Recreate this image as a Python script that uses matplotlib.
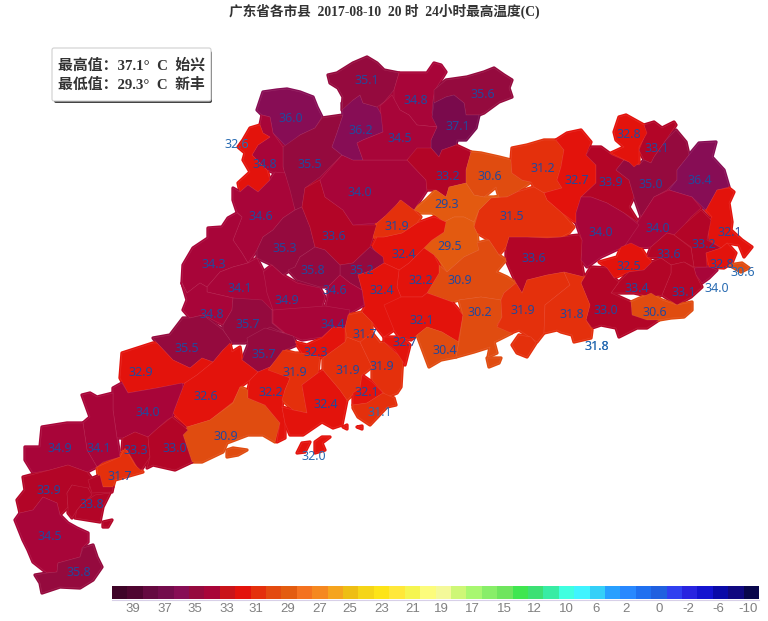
import matplotlib
matplotlib.use("Agg")
import matplotlib.pyplot as plt
from matplotlib.patches import Polygon, FancyBboxPatch

# ---------- data ----------
title_text = "广东省各市县  2017-08-10  20 时  24小时最高温度(C)"
box_lines = ["最高值：37.1°  C  始兴", "最低值：29.3°  C  新丰"]

legend_colors = ["#3f0428", "#4f0530", "#650a40", "#730c4c", "#870d55", "#950a3e", "#a80539",
                 "#c9141a", "#e3130c", "#e4300c", "#e34a10", "#e35c10", "#f47220", "#f58820",
                 "#f5a41e", "#eebe14", "#f5d518", "#fde418", "#ffe83a", "#f5f550", "#fcfc7c",
                 "#f4f99a", "#cef776", "#a8f770", "#88ee68", "#6fe55e", "#40e650", "#3de074",
                 "#38eca4", "#40ffe0", "#40f4ff", "#34d0f8", "#28a0ff", "#2888ff", "#2070f0",
                 "#2060e0", "#3040f0", "#2824e0", "#1414d0", "#0a0aa8", "#100880", "#08064c"]
legend_labels = ["39", "37", "35", "33", "31", "29", "27", "25", "23", "21", "19",
                 "17", "15", "12", "10", "6", "2", "0", "-2", "-6", "-10"]
legend_label_x = [133, 165, 195, 227, 256, 288, 320, 350, 382, 413, 441,
                  472, 504, 534, 566, 596, 626, 659, 688, 718, 748]

degree_colors = {29: "#e35a10", 30: "#e04c10", 31: "#e4300c", 32: "#e3130c", 33: "#b30527",
                 34: "#a80539", 35: "#950a3e", 36: "#870d55", 37: "#7a0a4c"}

county_values = [
    36.0, 35.5, 34.8, 32.6, 34.6, 34.3, 35.3, 33.6, 34.0, 36.2, 35.1, 34.8, 35.6, 37.1, 34.5,
    33.2, 30.6, 31.2, 32.7, 33.9, 33.1, 35.0, 32.8, 36.4, 32.1, 34.0, 34.0, 33.2, 33.6, 32.5,
    32.8, 30.6, 34.0, 33.1, 33.4, 33.0, 30.6, 33.6, 31.5, 29.3, 29.5, 30.9, 32.2, 32.4, 31.9,
    35.2, 32.4, 34.9, 35.8, 34.6, 34.4, 34.1, 34.8, 35.7, 35.7, 35.5, 32.9, 32.6, 30.9, 32.2,
    31.9, 32.3, 32.4, 31.9, 31.7, 31.9, 32.1, 31.1, 32.1, 30.4, 32.7, 30.2, 31.9, 31.8, 34.0,
    34.1, 34.9, 33.3, 33.0, 31.7, 33.9, 33.8, 34.5, 35.8, 32.0]

county_shapes = [
    [[(257,110),(263,92),(277,90),(287,89),(300,92),(313,97),(317,107),(322,117),(315,128),(300,135),(287,147),(273,133),(270,117),(262,115)]],
    [[(322,118),(343,115),(337,133),(332,147),(342,155),(320,177),(305,188),(302,207),(295,210),(288,190),(283,167),(283,147),(300,135),(315,128)]],
    [[(262,115),(270,117),(273,133),(283,147),(283,167),(288,185),(282,178),(272,172),(267,170),(252,155),(258,145),(270,137),(263,133),(260,125)]],
    [[(250,128),(260,125),(263,133),(270,137),(258,145),(252,155),(267,170),(270,180),(258,192),(248,185),(240,192),(238,183),(250,172),(243,160),(245,153),(238,147),(243,140)]],
    [[(233,188),(240,192),(248,185),(258,192),(270,180),(275,172),(285,173),(290,190),(295,210),(283,218),(273,230),(263,237),(257,250),(248,263),(242,253),(233,240),(242,217),(237,212),(233,200)]],
    [[(237,213),(242,217),(233,240),(242,253),(248,263),(233,267),(220,272),(207,287),(200,283),(187,293),(182,283),(183,265),(193,248),(208,238),(208,228),(222,227),(228,218)]],
    [[(283,218),(295,210),(302,207),(310,227),(315,247),(300,257),(295,267),(283,275),(272,265),(257,258),(257,250),(263,237),(273,230)]],
    [[(302,207),(305,188),(320,180),(325,197),(343,210),(353,225),(377,225),(370,247),(353,263),(340,265),(325,250),(315,247),(310,227)]],
    [[(342,155),(353,160),(384,160),(407,160),(426,180),(427,190),(414,210),(400,200),(391,213),(384,217),(377,223),(353,225),(343,210),(325,197),(320,180)]],
    [[(343,115),(342,103),(353,100),(360,95),(363,103),(377,107),(383,117),(383,132),(363,140),(357,143),(363,160),(353,160),(342,155),(332,147),(337,133)]],
    [[(328,75),(337,73),(353,63),(367,57),(377,63),(384,70),(399,73),(394,90),(384,102),(377,107),(363,103),(360,95),(353,100),(342,110),(343,97),(338,88),(330,83)]],
    [[(399,73),(427,73),(434,63),(441,65),(446,72),(435,90),(433,100),(432,113),(437,127),(417,125),(409,115),(400,110),(394,100),(394,90)]],
    [[(434,90),(446,80),(467,77),(484,72),(494,68),(504,75),(512,80),(509,88),(512,97),(499,102),(484,113),(479,115),(466,115),(464,103),(454,95),(446,97),(434,103)]],
    [[(434,103),(446,97),(454,95),(464,103),(466,115),(479,115),(476,128),(466,140),(457,140),(456,145),(442,150),(439,157),(431,148),(431,140),(437,127),(432,117)]],
    [[(380,106),(392,95),(400,110),(409,115),(417,125),(437,127),(431,140),(431,148),(418,150),(407,160),(384,160),(363,160),(357,143),(363,140),(383,132)]],
    [[(407,160),(417,148),(431,148),(439,157),(442,150),(456,145),(471,152),(466,170),(466,183),(449,187),(446,197),(436,190),(427,190),(426,180)]],
    [[(471,152),(481,153),(499,157),(511,160),(512,173),(522,180),(531,182),(517,192),(507,197),(499,197),(496,187),(484,197),(474,195),(466,183),(466,170)]],
    [[(511,160),(512,148),(527,145),(544,140),(556,140),(564,150),(561,167),(557,180),(562,188),(544,193),(534,187),(531,182),(522,180),(512,173)]],
    [[(556,140),(567,133),(581,130),(591,142),(586,155),(596,165),(596,183),(581,197),(576,213),(576,223),(562,213),(547,200),(544,193),(562,188),(557,180),(561,167),(564,150)]],
    [[(591,147),(601,147),(612,155),(624,160),(616,170),(629,180),(634,197),(629,207),(639,223),(624,213),(607,203),(591,197),(581,197),(596,183),(596,165),(586,155)]],
    [[(644,125),(654,122),(662,128),(674,122),(676,125),(666,140),(654,157),(651,163),(644,160),(639,150),(646,133)]],
    [[(616,170),(624,160),(629,162),(639,165),(644,160),(651,163),(654,157),(666,140),(676,130),(686,142),(689,155),(677,170),(677,180),(667,190),(654,197),(641,217),(634,197),(629,180)]],
    [[(614,132),(619,117),(626,115),(644,125),(647,133),(639,147),(639,163),(634,167),(629,162),(611,153),(624,147),(616,140)]],
    [[(677,170),(689,155),(699,143),(716,142),(712,157),(724,170),(729,187),(717,190),(706,210),(692,197),(669,190),(677,180)]],
    [[(717,190),(729,188),(734,192),(729,203),(732,222),(731,230),(742,240),(752,247),(744,257),(739,245),(727,243),(721,248),(709,240),(707,223),(712,217),(706,210)]],
    [[(641,217),(654,197),(669,190),(692,197),(701,208),(691,217),(686,223),(686,237),(667,233),(651,247),(637,248),(624,247),(637,223)]],
    [[(576,223),(576,213),(581,197),(591,197),(607,203),(624,213),(639,225),(624,247),(616,250),(601,257),(587,267),(581,260),(582,240)]],
    [[(686,223),(701,210),(711,220),(707,240),(721,248),(706,253),(707,267),(694,267),(691,247),(674,235)]],
    [[(651,247),(667,233),(674,235),(691,248),(694,267),(684,262),(671,265),(661,258),(647,257)]],
    [[(599,262),(617,257),(621,247),(631,243),(641,248),(647,257),(652,262),(644,270),(629,272),(614,278),(607,268)]],
    [[(706,253),(721,248),(727,243),(736,253),(732,263),(724,268),(709,267)]],
    [[(729,265),(742,263),(749,268),(741,272)]],
    [[(694,268),(709,267),(717,270),(709,278),(702,283),(696,275)]],
    [[(671,265),(684,262),(694,268),(696,275),(702,287),(691,297),(677,305),(662,295),(671,273)]],
    [[(644,270),(652,262),(661,258),(671,265),(671,273),(662,295),(651,297),(634,293),(611,293),(619,282),(629,272)]],
    [[(591,267),(607,268),(614,278),(619,282),(611,293),(631,302),(633,313),(647,319),(659,320),(647,328),(637,328),(619,337),(616,328),(601,325),(592,328),(586,320),(590,305),(581,283)]],
    [[(631,302),(651,293),(662,300),(677,305),(692,302),(692,310),(684,317),(671,318),(659,320),(647,320),(632,315)]],
    [[(509,237),(527,237),(547,238),(561,237),(579,235),(582,240),(581,260),(584,277),(564,272),(547,275),(527,280),(522,293),(516,283),(506,260),(506,247)]],
    [[(474,227),(479,210),(491,198),(507,197),(517,192),(534,187),(544,193),(547,200),(562,213),(574,227),(569,233),(561,237),(527,237),(509,237),(506,247),(499,255),(489,240),(477,233)]],
    [[(414,210),(426,200),(436,190),(446,197),(449,187),(466,183),(474,195),(484,197),(499,197),(491,198),(479,210),(474,222),(464,217),(454,217),(444,222),(432,213),(421,213)]],
    [[(444,222),(454,217),(464,217),(474,222),(474,227),(477,233),(479,250),(464,257),(447,272),(441,263),(434,255),(422,247),(432,240),(444,232)]],
    [[(447,272),(464,257),(479,250),(477,243),(489,240),(499,255),(506,260),(496,272),(507,277),(516,283),(504,293),(501,300),(481,297),(459,300),(452,302),(427,293),(439,273),(439,265)]],
    [[(399,270),(409,263),(424,248),(434,255),(439,265),(439,273),(427,293),(422,297),(401,297),(397,287)]],
    [[(377,237),(384,237),(402,233),(417,223),(434,217),(446,222),(444,232),(432,240),(424,248),(409,263),(399,270),(384,263),(372,247)]],
    [[(384,217),(401,200),(414,210),(421,217),(417,223),(402,233),(384,237),(373,237),(377,223)]],
    [[(340,265),(353,263),(370,247),(383,257),(384,263),(373,270),(358,275),(362,290),(350,283),(340,275)]],
    [[(358,275),(373,270),(384,263),(399,270),(397,287),(401,297),(394,330),(384,337),(372,322),(362,312),(365,307),(362,290)]],
    [[(263,272),(272,265),(283,275),(297,283),(320,288),(325,297),(320,312),(300,327),(283,333),(272,323),(272,310),(258,305),(262,290)]],
    [[(300,257),(315,247),(325,250),(340,265),(340,275),(328,287),(320,287),(297,280),(288,270),(295,267)]],
    [[(328,287),(340,275),(350,283),(362,290),(364,305),(350,313),(325,310),(328,297)]],
    [[(273,310),(325,306),(350,310),(348,317),(345,328),(333,327),(322,337),(302,340),(285,333),(273,323)]],
    [[(207,287),(220,272),(233,267),(248,263),(257,258),(263,270),(265,280),(267,293),(273,310),(233,298),(207,292)]],
    [[(182,283),(187,293),(200,283),(207,287),(207,292),(233,298),(232,310),(223,325),(203,315),(190,318),(183,310),(187,300)]],
    [[(233,298),(262,300),(272,310),(272,323),(284,333),(270,327),(250,340),(245,343),(232,343),(223,330),(223,325),(232,310)]],
    [[(247,338),(265,328),(283,333),(293,336),(297,345),(285,350),(270,367),(258,372),(242,360),(248,345)]],
    [[(153,338),(170,335),(183,318),(190,318),(203,315),(223,330),(232,343),(223,350),(213,362),(202,358),(190,368),(173,360),(157,343)]],
    [[(122,353),(153,343),(157,343),(173,360),(190,368),(202,358),(213,362),(197,375),(185,383),(157,388),(128,393),(120,378)]],
    [[(213,362),(223,350),(230,343),(232,352),(240,347),(242,360),(258,372),(250,380),(240,387),(233,402),(210,420),(187,427),(173,413),(183,387),(185,383),(197,375)]],
    [[(187,427),(210,420),(233,403),(240,387),(248,390),(248,398),(265,405),(280,423),(275,442),(263,435),(248,435),(227,443),(223,452),(202,462),(192,462),(183,435)],
     [(227,450),(233,448),(247,450),(238,455),(227,457)]],
    [[(250,380),(258,372),(270,367),(290,378),(285,390),(283,400),(282,407),(285,423),(285,438),(277,442),(280,423),(265,405),(248,398),(248,390)]],
    [[(268,370),(283,350),(295,353),(320,353),(318,373),(302,385),(307,413),(293,410),(282,400),(285,390),(290,378)]],
    [[(295,342),(307,345),(322,338),(333,327),(345,328),(345,342),(323,358),(302,353)]],
    [[(302,385),(318,373),(323,370),(340,390),(347,400),(342,425),(333,428),(322,422),(303,435),(290,435),(285,423),(282,407),(293,410),(307,413)]],
    [[(323,358),(345,342),(347,337),(360,342),(372,367),(362,375),(360,388),(347,400),(340,390),(323,370)]],
    [[(345,328),(348,315),(362,312),(372,322),(372,333),(380,343),(360,342),(347,337)]],
    [[(372,333),(380,343),(384,342),(396,353),(403,358),(402,370),(401,387),(397,393),(387,397),(372,380),(372,367),(360,342)]],
    [[(360,388),(362,375),(372,382),(383,393),(367,403),(353,405),(353,393)]],
    [[(353,405),(367,403),(383,393),(394,398),(396,405),(387,407),(370,425),(358,417),(353,408)]],
    [[(384,305),(401,297),(422,297),(427,293),(452,302),(463,315),(458,342),(442,332),(427,327),(417,335),(411,340),(399,337),(394,330)]],
    [[(417,335),(427,327),(442,332),(459,342),(456,357),(441,360),(429,367)]],
    [[(384,337),(402,337),(410,345),(405,365),(395,350),(384,342)]],
    [[(459,300),(481,297),(501,300),(502,317),(497,325),(512,333),(494,342),(497,353),(488,357),(490,347),(474,352),(456,357),(459,342),(463,315)],
     [(487,358),(501,358),(499,363),(489,367)]],
    [[(504,293),(516,283),(522,293),(527,280),(547,275),(564,272),(570,285),(555,297),(545,305),(544,333),(537,342),(519,330),(511,333),(497,327),(502,317),(501,300)],
     [(512,345),(519,335),(531,337),(536,343),(527,357),(517,353)]],
    [[(564,272),(584,277),(581,283),(590,305),(586,320),(592,330),(591,338),(574,342),(572,335),(561,332),(557,330),(544,333),(545,305),(555,297),(570,285)]],
    [[(113,388),(122,383),(128,393),(157,388),(182,383),(183,387),(175,408),(172,417),(167,420),(158,428),(148,437),(135,432),(123,438),(117,438),(113,410)]],
    [[(82,395),(90,393),(97,397),(113,393),(113,410),(117,438),(120,457),(103,462),(97,467),(87,450),(83,423),(90,417)]],
    [[(42,427),(67,423),(83,423),(87,450),(97,467),(87,472),(68,465),(50,470),(33,473),(25,460),(25,447),(40,447)]],
    [[(123,438),(135,432),(148,437),(150,457),(140,472),(127,450),(122,450)]],
    [[(148,437),(158,428),(172,417),(188,430),(183,435),(192,462),(175,470),(153,465),(147,468),(150,457)]],
    [[(97,467),(120,457),(125,448),(135,465),(143,472),(115,480),(113,487),(103,487),(98,475)]],
    [[(23,477),(50,470),(68,465),(87,472),(93,480),(88,490),(72,485),(67,493),(68,507),(60,515),(57,503),(43,497),(33,510),(20,513),(17,500),(25,490)]],
    [[(67,493),(72,485),(88,488),(92,495),(83,503),(77,510),(72,518),(68,513),(68,507)],
     [(88,480),(100,475),(103,487),(113,487),(112,492),(92,493)],
     [(95,495),(110,493),(103,507),(100,522),(75,518),(77,510),(83,503)],
     [(103,522),(112,520),(108,527),(103,527)]],
    [[(20,513),(33,510),(43,497),(57,503),(60,515),(68,523),(77,528),(88,533),(88,542),(82,548),(80,557),(58,563),(57,572),(47,573),(33,562),(28,550),(23,540),(15,520)]],
    [[(35,575),(47,573),(57,572),(58,563),(80,557),(83,548),(93,545),(97,557),(102,567),(93,580),(80,588),(60,587),(42,593),(40,583)]],
    [[(297,453),(302,443),(310,442),(305,452)],
     [(315,442),(322,437),(330,437),(322,443),(325,450),(315,453)],
     [(343,427),(347,425),(347,429)],
     [(357,427),(362,426),(362,429)]],
]

label_text = ["35.1","34.8","35.6","36.0","36.2","34.5","37.1","32.8","33.1","32.6","34.8","35.5",
              "33.2","30.6","31.2","32.7","33.9","35.0","36.4","34.0","29.3","34.6","31.9","31.5",
              "34.0","34.0","33.2","32.1","33.6","32.4","29.5","33.6","33.6","32.8","30.6","32.5",
              "35.3","35.8","35.2","34.3","34.1","34.9","34.6","32.2","30.9","33.4","33.1","34.0",
              "32.4","34.8","35.7","34.4","31.7","32.1","30.2","31.9","31.8","33.0","30.6","31.8",
              "31.8","30.4","32.7","35.5","35.7","32.3","31.9","31.9","31.9","32.1","32.9","32.6",
              "32.2","32.4","31.1","34.0","30.9","32.0","34.9","34.1","33.3","33.0","31.7","33.9",
              "33.8","34.5","35.8"]
label_x = [367,416,483,291,361,400,458,629,657,237,265,310,448,490,543,577,611,651,700,360,447,261,
           397,512,601,658,704,730,334,404,450,534,669,722,743,629,285,313,362,214,240,287,335,421,
           460,637,684,717,382,212,248,333,365,422,480,523,572,606,655,597,597,445,405,187,264,316,
           295,348,382,367,141,206,271,326,380,148,226,314,60,99,136,175,120,49,92,50,79]
label_y = [81,101,95,118,130,138,127,135,149,144,164,165,177,176,168,180,183,184,180,192,205,217,
           226,216,232,228,245,232,236,254,246,259,255,264,272,266,249,271,270,265,289,301,290,281,
           281,289,293,289,291,314,325,324,335,320,313,310,314,310,313,346,346,351,343,348,354,352,
           372,370,367,393,372,396,393,405,413,413,437,456,449,449,450,448,476,490,505,537,572]
off_map_labels = {9, 34, 47, 59, 60, 74, 77}

# ---------- figure ----------
plt.rcParams["font.family"] = ["Liberation Serif", "Noto Sans CJK SC"]
fig = plt.figure(figsize=(7.68, 6.21), dpi=100, facecolor="white")
ax = fig.add_axes([0, 0, 1, 1])
ax.set_xlim(0, 768)
ax.set_ylim(621, 0)
ax.axis("off")

for value, polys in zip(county_values, county_shapes):
    col = degree_colors[int(value)]
    for poly in polys:
        ax.add_patch(Polygon(poly, closed=True, facecolor=col, edgecolor=col, lw=2.4,
                             joinstyle="round", zorder=2))
for value, polys in zip(county_values, county_shapes):
    col = degree_colors[int(value)]
    for poly in polys:
        ax.add_patch(Polygon(poly, closed=True, facecolor=col, edgecolor=(1, 0.75, 0.8, 0.16),
                             lw=0.4, joinstyle="round", zorder=3))

for i, (t, x, y) in enumerate(zip(label_text, label_x, label_y)):
    ax.text(x, y, t, ha="center", va="center", fontsize=9,
            color="#2a6cb2" if i in off_map_labels else "#24489c",
            family="Noto Sans", zorder=5)

# colour legend
cell_w = (759 - 112) / len(legend_colors)
for i, c in enumerate(legend_colors):
    ax.bar(112 + i * cell_w, 13, width=cell_w + 0.3, bottom=586, align="edge", color=c, lw=0, zorder=2)
ax.plot([112, 759], [599.5, 599.5], color="#d8d0e8", lw=0.8, zorder=1)
for t, x in zip(legend_labels, legend_label_x):
    ax.text(x, 609, t, ha="center", va="center", fontsize=9.5, color="#808080",
            family="Liberation Sans")

# title
ax.text(384, 11, title_text, ha="center", va="center", fontsize=9.85, fontweight="bold", color="#333333")

# info box
ax.add_patch(FancyBboxPatch((54, 51), 158, 52, boxstyle="round,pad=0,rounding_size=2",
                            facecolor="#444444", edgecolor="none", zorder=6))
ax.add_patch(FancyBboxPatch((52, 48), 159, 53, boxstyle="round,pad=0,rounding_size=2",
                            facecolor="white", edgecolor="#d0d0d0", lw=0.8, zorder=7))
for line, y in zip(box_lines, [65, 85]):
    ax.text(58, y, line, ha="left", va="center", fontsize=10.7, fontweight="bold",
            color="#333333", zorder=8)

fig.savefig("out.png", dpi=100, facecolor="white")
